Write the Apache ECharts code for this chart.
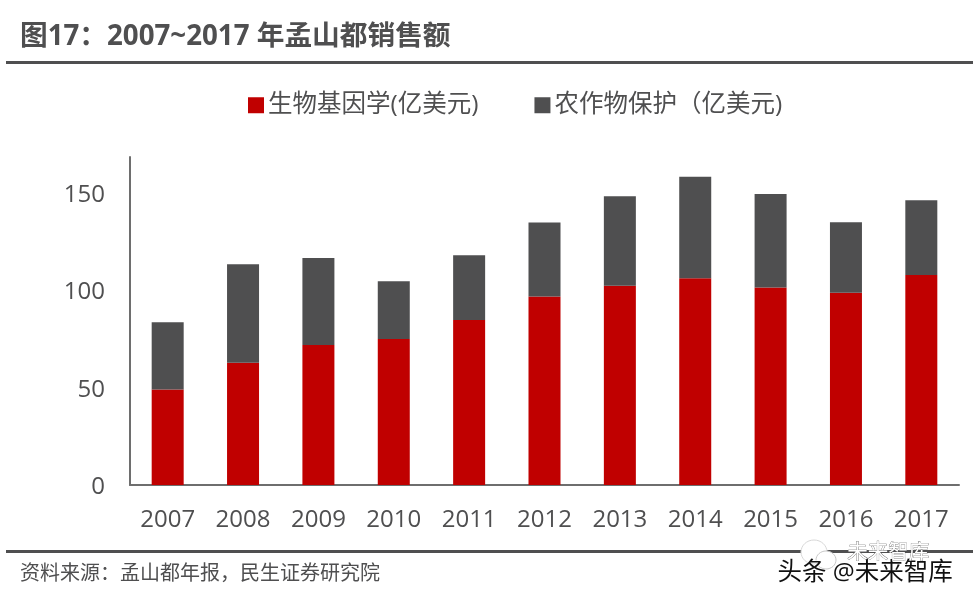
<!DOCTYPE html>
<html><head><meta charset="utf-8">
<style>html,body{margin:0;padding:0;background:#fff}#c{width:973px;height:599px}</style>
<script src="https://cdn.jsdelivr.net/npm/echarts@6/dist/echarts.min.js"></script></head>
<body><div id="c"></div>
<script>
const categories=['2007','2008','2009','2010','2011','2012','2013','2014','2015','2016','2017'];
const biotech=[49,62.8,71.9,75,84.8,96.8,102.3,106.2,101.4,98.8,107.9];
const cropProtection=[34.6,50.6,44.7,29.7,33.2,38,46.1,52.1,48.1,36.2,38.4];
const seriesNames=['生物基因学(亿美元)','农作物保护（亿美元)'];
const titleText='图17：2007~2017 年孟山都销售额';
const sourceText='资料来源：孟山都年报，民生证券研究院';
const font='"Open Sans","Noto Sans CJK SC",sans-serif';
const ink='#4f4f50';
const chart=echarts.init(document.getElementById('c'),null,{renderer:'canvas'});
chart.setOption({
 animation:false,
 backgroundColor:'#fff',
 legend:{top:88,left:243,itemWidth:16,itemHeight:16,itemGap:56,icon:'rect',
  textStyle:{fontFamily:font,fontSize:24.5,color:ink,padding:[0,0,0,-1]},
  data:seriesNames},
 grid:{left:130,right:14,top:157,bottom:114},
 xAxis:{type:'category',data:categories,
  axisLine:{lineStyle:{color:'#6e6e6e',width:2}},axisTick:{show:false},
  axisLabel:{fontFamily:font,fontSize:24,color:ink,margin:23}},
 yAxis:{type:'value',min:0,max:168.5,interval:50,
  axisLine:{show:true,lineStyle:{color:'#6e6e6e',width:2}},axisTick:{show:false},splitLine:{show:false},
  axisLabel:{fontFamily:font,fontSize:24,color:ink,margin:25,showMaxLabel:false,verticalAlign:'top',lineHeight:4}},
 series:[
  {name:seriesNames[0],type:'bar',stack:'t',barWidth:32,data:biotech,itemStyle:{color:'#c00000'}},
  {name:seriesNames[1],type:'bar',stack:'t',barWidth:32,data:cropProtection,itemStyle:{color:'#4f4f50'}}
 ],
 graphic:[
  {type:'text',left:20,top:23,style:{text:titleText,font:'bold 27.7px '+font,fill:ink}},
  {type:'rect',shape:{x:6,y:61,width:967,height:3},style:{fill:ink}},
  {type:'rect',shape:{x:6,y:550,width:967,height:3},style:{fill:ink}},
  {type:'text',left:20,top:564,style:{text:sourceText,font:'20px '+font,fill:ink}},
  {type:'ellipse',shape:{cx:814,cy:552,rx:13,ry:12},style:{fill:'#fff',stroke:'#d8d8d8',lineWidth:1}},
  {type:'ellipse',shape:{cx:826,cy:560,rx:10,ry:9},style:{fill:'#fff',stroke:'#c8c8c8',lineWidth:1}},
  {type:'text',left:777,top:560,style:{text:'头条 @未来智库',font:'24.5px '+font,fill:'#111',stroke:'#fff',lineWidth:1}},
  {type:'text',left:847,top:543,style:{text:'未来智库',font:'20.5px '+font,fill:'#fff',stroke:'#555',lineWidth:0.6}}
 ]
});
</script></body></html>
